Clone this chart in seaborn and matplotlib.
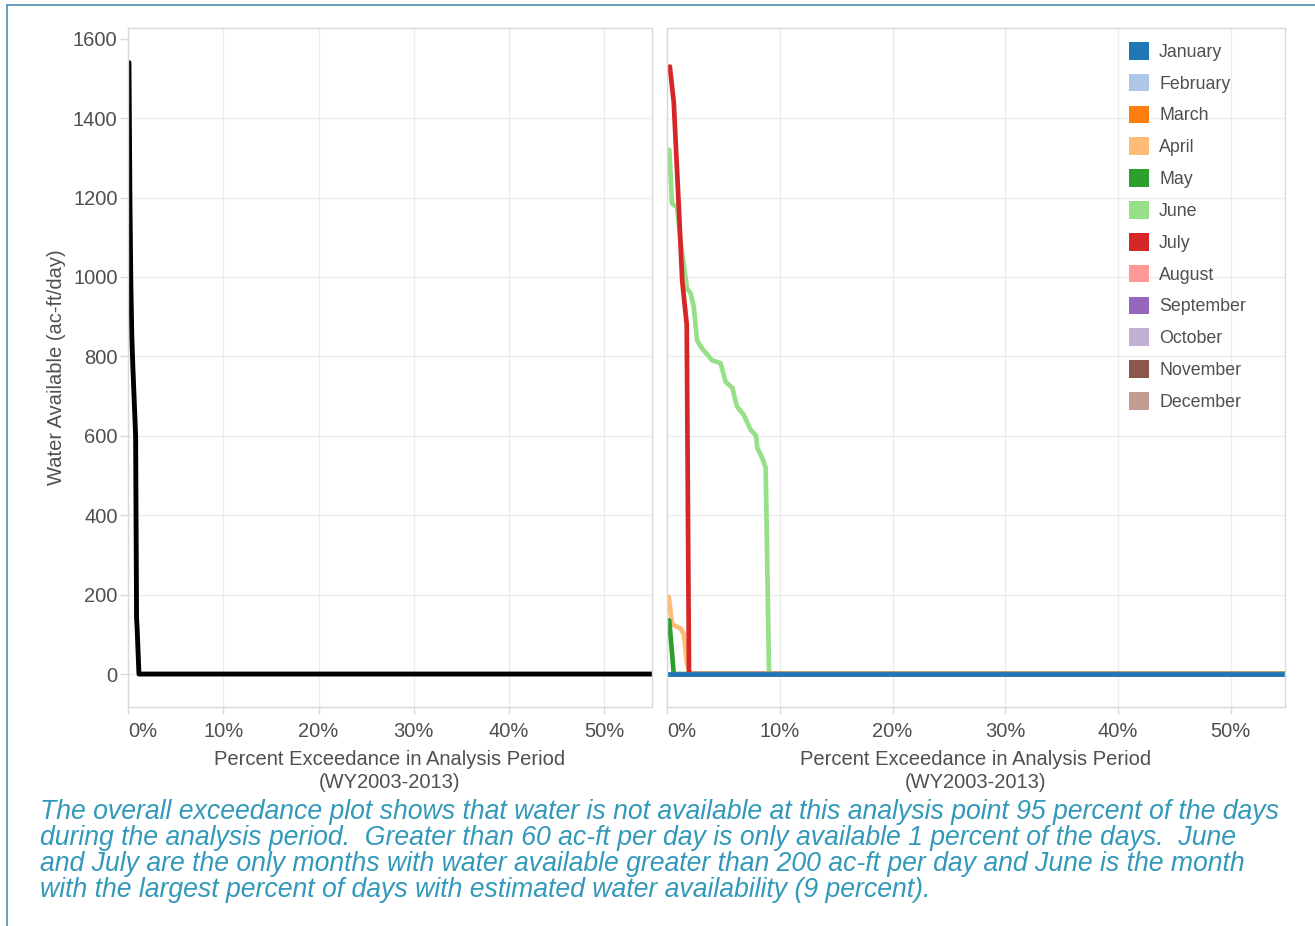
import numpy as np
import pandas as pd
import matplotlib
matplotlib.use("Agg")
import matplotlib.pyplot as plt
import seaborn as sns
from matplotlib.patches import Patch
from matplotlib.lines import Line2D

# ---------------- data ----------------
overall_pct = [0.1, 0.2, 0.3, 0.4, 0.5, 0.8, 0.9, 0.95, 1.15, 100.0]
overall_val = [1540, 1200, 980, 850, 780, 600, 140, 120, 0, 0]

months = ["January", "February", "March", "April", "May", "June",
          "July", "August", "September", "October", "November", "December"]
month_colors = ["#1f77b4", "#aec7e8", "#ff7f0e", "#ffbb78", "#2ca02c", "#98df8a",
                "#d62728", "#ff9896", "#9467bd", "#c5b0d5", "#8c564b", "#c49c94"]

zero_pct = [0.0, 100.0]
zero_val = [0, 0]

april_pct = [0.15, 0.45, 1.2, 1.5, 1.78, 2.05, 100.0]
april_val = [195, 125, 115, 100, 25, 0, 0]

may_pct = [0.2, 0.6, 100.0]
may_val = [135, 0, 0]

june_pct = [0.2, 0.45, 0.9, 1.2, 1.78, 2.08, 2.37, 2.67, 3.1, 3.56, 4.0, 4.75,
            5.2, 5.8, 6.2, 6.8, 7.4, 7.9, 8.0, 8.46, 8.75, 9.05, 100.0]
june_val = [1320, 1185, 1175, 1090, 970, 960, 925, 840, 820, 805, 790, 783,
            736, 720, 674, 653, 616, 600, 570, 543, 520, 0, 0]

july_pct = [0.25, 0.6, 1.05, 1.35, 1.75, 1.95, 100.0]
july_val = [1530, 1440, 1175, 990, 880, 0, 0]

x_ticks = [0, 10, 20, 30, 40, 50]
x_tick_labels = ["0%", "10%", "20%", "30%", "40%", "50%"]
y_ticks = [0, 200, 400, 600, 800, 1000, 1200, 1400, 1600]

caption_lines = [
    "The overall exceedance plot shows that water is not available at this analysis point 95 percent of the days",
    "during the analysis period.  Greater than 60 ac-ft per day is only available 1 percent of the days.  June",
    "and July are the only months with water available greater than 200 ac-ft per day and June is the month",
    "with the largest percent of days with estimated water availability (9 percent).",
]

# ---------------- build table ----------------
series = {m: (zero_pct, zero_val) for m in months}
series["April"] = (april_pct, april_val)
series["May"] = (may_pct, may_val)
series["June"] = (june_pct, june_val)
series["July"] = (july_pct, july_val)
rows = []
for m in months:
    p, v = series[m]
    for a, b in zip(p, v):
        rows.append((m, a, b))
df = pd.DataFrame(rows, columns=["month", "pct", "val"])
overall_df = pd.DataFrame({"pct": overall_pct, "val": overall_val})

# ---------------- figure ----------------
sns.set_theme(style="white")
plt.rcParams["font.family"] = ["Liberation Sans", "DejaVu Sans"]

W, H = 1315, 926
fig = plt.figure(figsize=(W / 100, H / 100), dpi=100)
fig.patch.set_facecolor("white")


def rect(l, t, r, b):
    return [l / W, 1 - b / H, (r - l) / W, (b - t) / H]


ax1 = fig.add_axes(rect(128, 28, 652, 707))
ax2 = fig.add_axes(rect(667, 28, 1285, 707))

sns.lineplot(data=overall_df, x="pct", y="val", ax=ax1, color="black", lw=3.5,
             sort=False, estimator=None)

draw_order = months[1:] + [months[0]]
sns.lineplot(data=df, x="pct", y="val", hue="month", hue_order=draw_order,
             palette=dict(zip(months, month_colors)), ax=ax2, lw=3.4,
             sort=False, estimator=None, legend=False)

tick_col = "#4f4f4f"
frame_col = "#d9d9d9"
grid_col = "#ececec"

for ax, xmax in ((ax1, 55.0), (ax2, 54.8)):
    ax.set_facecolor("white")
    ax.set_xlim(0, xmax)
    ax.set_ylim(-83, 1627)
    ax.set_xticks(x_ticks)
    ax.set_xticklabels(x_tick_labels)
    ax.set_yticks(y_ticks)
    ax.grid(True, color=grid_col, lw=1)
    ax.set_axisbelow(True)
    ax.get_ygridlines()[-1].set_visible(False)
    for s in ax.spines.values():
        s.set_visible(True)
        s.set_color(frame_col)
        s.set_linewidth(1)
    ax.tick_params(axis="x", length=5, width=1, color=frame_col, labelsize=14.5,
                   labelcolor=tick_col, pad=5.5, bottom=True)
    ax.xaxis.get_ticklabels()[0].set_horizontalalignment("left")
    ax.set_xlabel("Percent Exceedance in Analysis Period\n(WY2003-2013)",
                  fontsize=14.5, color=tick_col, labelpad=6.5, linespacing=1.3)

ax1.tick_params(axis="y", length=6, width=1, color=frame_col, labelsize=14.5,
                labelcolor=tick_col, pad=1.5, left=True)
ax1.set_ylabel("Water Available (ac-ft/day)", fontsize=14.5, color=tick_col, labelpad=5)
ax2.tick_params(axis="y", length=0, labelleft=False)
ax2.set_ylabel("")

handles = [Patch(facecolor=c, edgecolor="none") for c in month_colors]
leg = ax2.legend(handles, months, loc="upper left",
                 bbox_to_anchor=(1129 / W, 1 - 42 / H), bbox_transform=fig.transFigure,
                 frameon=False, fontsize=12.8, handlelength=1.15, handleheight=1.15,
                 handletextpad=0.55, labelspacing=0.73, borderpad=0, borderaxespad=0)
for t in leg.get_texts():
    t.set_color(tick_col)

cap_col = "#3399bb"
for i, line in enumerate(caption_lines):
    fig.text(40 / W, 1 - (819 + 26 * i) / H, line, fontsize=19.2, style="italic",
             color=cap_col, va="baseline", ha="left")

border_col = "#4a90b0"
fig.add_artist(Line2D([7 / W, 1], [1 - 5 / H, 1 - 5 / H], transform=fig.transFigure,
                      color=border_col, lw=1.2))
fig.add_artist(Line2D([7 / W, 7 / W], [0, 1 - 5 / H], transform=fig.transFigure,
                      color=border_col, lw=1.2))

fig.savefig("out.png", dpi=100, facecolor="white")
